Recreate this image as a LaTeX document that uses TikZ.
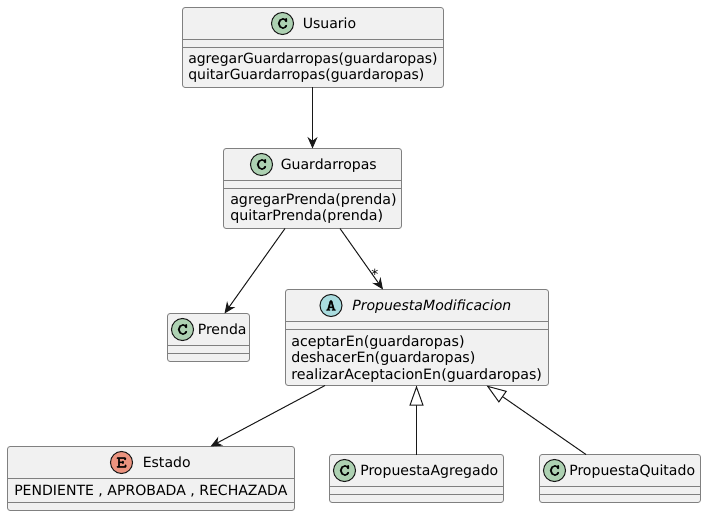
\documentclass[tikz,border=0pt]{standalone}
\usepackage{fontspec}
\setmainfont{DejaVu Sans}
\newfontfamily\spotfont[FakeBold=3,FakeStretch=1.25]{Latin Modern Mono}
\usetikzlibrary{arrows.meta,fit}

\definecolor{boxfill}{HTML}{F1F1F1}
\definecolor{boxline}{HTML}{181818}
\definecolor{spotC}{HTML}{ADD1B2}
\definecolor{spotA}{HTML}{A9DCDF}
\definecolor{spotE}{HTML}{EB937F}

\begin{document}
\begin{tikzpicture}[x=0.75pt, y=-0.75pt]

% Define styles
\tikzset{
  box/.style = {rectangle, draw=boxline!55, line width=0.6pt, fill=boxfill, rounded corners=1.9pt, inner sep=0pt, outer sep=0pt},
  divider/.style = {draw=boxline!55, line width=0.6pt},
  spot/.style = {circle, draw=boxline, line width=0.75pt, minimum size=16.5pt, inner sep=0pt, font=\spotfont\fontsize{12}{12}\selectfont},
  label/.style = {anchor=base west, inner sep=0pt, font=\fontsize{10.55}{12}\selectfont, text=black},
  wide/.style = {label, font=\fontsize{10.68}{12}\selectfont},
  arrow/.style = {draw=boxline, line width=0.75pt, -{Stealth[length=8.6pt, width=7.5pt, inset=2.8pt]}},
  extends/.style = {draw=boxline, line width=0.75pt, -{Triangle[open, fill=white, length=15pt, width=10.5pt]}}
}

\useasboundingbox (0,0) rectangle (706,516);

% Boxes
\node [box, fit={(182.5,7.5) (443.5,87.5)}] (usuario) {};
\node [box, fit={(223.5,148.5) (401.5,228.5)}] (guardarropas) {};
\node [box, fit={(167.5,313.5) (249.5,361.5)}] (prenda) {};
\node [box, fit={(285.5,289.5) (548.5,385.5)}] (propuesta) {};
\node [box, fit={(7.5,446.5) (294.5,510.5)}] (estado) {};
\node [box, fit={(329.5,454.5) (503.5,502.5)}] (agregado) {};
\node [box, fit={(539.5,454.5) (700.5,502.5)}] (quitado) {};

% Dividers
\draw [divider] (usuario.west |- 0,39.5) -- (usuario.east |- 0,39.5);
\draw [divider] (usuario.west |- 0,47.5) -- (usuario.east |- 0,47.5);
\draw [divider] (guardarropas.west |- 0,180.5) -- (guardarropas.east |- 0,180.5);
\draw [divider] (guardarropas.west |- 0,188.5) -- (guardarropas.east |- 0,188.5);
\draw [divider] (prenda.west |- 0,345.5) -- (prenda.east |- 0,345.5);
\draw [divider] (prenda.west |- 0,353.5) -- (prenda.east |- 0,353.5);
\draw [divider] (propuesta.west |- 0,321.5) -- (propuesta.east |- 0,321.5);
\draw [divider] (propuesta.west |- 0,329.5) -- (propuesta.east |- 0,329.5);
\draw [divider] (estado.west |- 0,478.5) -- (estado.east |- 0,478.5);
\draw [divider] (estado.west |- 0,502.5) -- (estado.east |- 0,502.5);
\draw [divider] (agregado.west |- 0,486.5) -- (agregado.east |- 0,486.5);
\draw [divider] (agregado.west |- 0,494.5) -- (agregado.east |- 0,494.5);
\draw [divider] (quitado.west |- 0,486.5) -- (quitado.east |- 0,486.5);
\draw [divider] (quitado.west |- 0,494.5) -- (quitado.east |- 0,494.5);

% Spots
\node [spot, fill=spotC] (usuario_spot) at (282.5,23.5) {C};
\node [spot, fill=spotC] (guardarropas_spot) at (261.5,164.5) {C};
\node [spot, fill=spotC] (prenda_spot) at (182.5,329.5) {C};
\node [spot, fill=spotA] (propuesta_spot) at (331,305.5) {A};
\node [spot, fill=spotE] (estado_spot) at (121.5,462.5) {E};
\node [spot, fill=spotC] (agregado_spot) at (344.5,470.5) {C};
\node [spot, fill=spotC] (quitado_spot) at (554.5,470.5) {C};

% Titles
\node [label] (usuario_name) at (302.5,28.5) {Usuario};
\node [label] (guardarropas_name) at (280.5,169.5) {Guardarropas};
\node [label] (prenda_name) at (197.5,334.5) {Prenda};
\node [label, font=\fontsize{10.55}{12}\selectfont\itshape] (propuesta_name) at (352,310.5) {PropuestaModificacion};
\node [label] (estado_name) at (142.5,467.5) {Estado};
\node [label] (agregado_name) at (360,475.5) {PropuestaAgregado};
\node [label] (quitado_name) at (569,475.5) {PropuestaQuitado};

% Members
\node [label, font=\fontsize{10.5}{12}\selectfont] (usuario_add) at (188,63.5) {agregarGuardarropas(guardaropas)};
\node [label, font=\fontsize{10.5}{12}\selectfont] (usuario_del) at (188,79.5) {quitarGuardarropas(guardaropas)};
\node [wide] (guardarropas_add) at (230,204.5) {agregarPrenda(prenda)};
\node [wide] (guardarropas_del) at (230,220.5) {quitarPrenda(prenda)};
\node [wide] (propuesta_acc) at (291,346) {aceptarEn(guardaropas)};
\node [wide] (propuesta_und) at (291,362) {deshacerEn(guardaropas)};
\node [wide] (propuesta_rea) at (291,379) {realizarAceptacionEn(guardaropas)};
\node [label] (estado_vals) at (14,495) {PENDIENTE , APROBADA , RECHAZADA};

% Arrows
\draw [arrow] (312.5,0 |- usuario.south) -- (312.5,0 |- guardarropas.north);
\draw [arrow] (285,0 |- guardarropas.south) -- (224.5,0 |- prenda.north);
\draw [arrow] (340,0 |- guardarropas.south) -- (383,0 |- propuesta.north);
\draw [arrow] (325,0 |- propuesta.south) -- (210.5,0 |- estado.north);
\draw [extends] (416.5,0 |- agregado.north) -- (416.5,0 |- propuesta.south);
\draw [extends] (586,0 |- quitado.north) -- (486.5,0 |- propuesta.south);

% Multiplicity
\node [label, font=\fontsize{10.5}{12}\selectfont] (many) at (371,280) {*};

\end{tikzpicture}
\end{document}
